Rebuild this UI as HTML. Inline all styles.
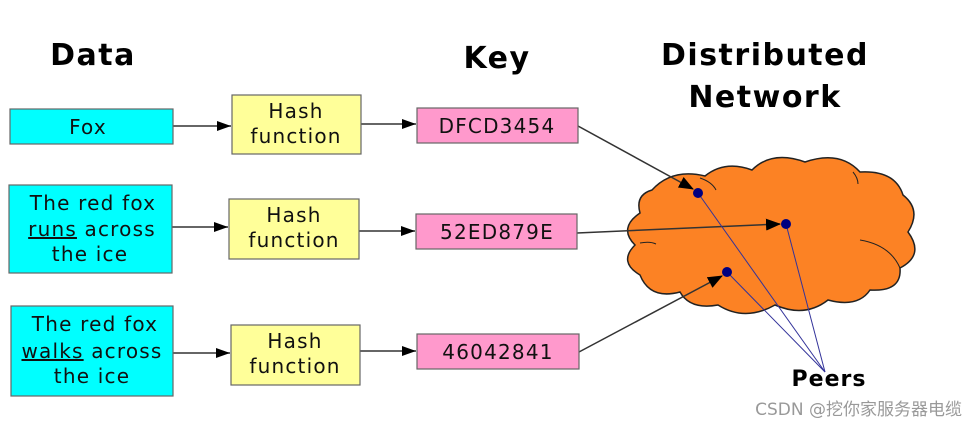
<!DOCTYPE html>
<html><head><meta charset="utf-8"><style>
html,body{margin:0;padding:0;background:#fff;}
svg{display:block;}
text{font-family:"DejaVu Sans","Liberation Sans",sans-serif;}
</style></head><body>
<svg width="978" height="425" viewBox="0 0 978 425" xmlns="http://www.w3.org/2000/svg">
<defs><marker id="a" markerWidth="14" markerHeight="10" refX="14" refY="5" orient="auto" markerUnits="userSpaceOnUse"><path d="M0,0 L14,5 L0,10 z" fill="#000"/></marker>
<marker id="b" markerWidth="15" markerHeight="12" refX="14" refY="6" orient="auto" markerUnits="userSpaceOnUse"><path d="M0,0 L15,6 L0,12 z" fill="#000"/></marker></defs>
<g font-weight="bold" font-size="30" fill="#000" text-anchor="middle" letter-spacing="1.5">
<text x="93" y="65">Data</text>
<text x="497" y="68">Key</text>
<text x="765" y="65">Distributed</text>
<text x="765" y="107">Network</text>
</g>
<path d="M652,190 Q672,168 705,176 Q725,160 752,170 Q772,150 805,162 Q840,150 860,172 Q895,170 903,195 Q922,210 908,232 Q925,255 900,268 Q902,292 870,290 Q858,308 828,300 Q805,318 775,305 Q745,322 718,305 Q690,310 680,292 Q650,300 640,275 Q618,262 635,245 Q618,228 640,213 Q635,195 652,190 Z" fill="#fc8224" stroke="#222" stroke-width="1.5"/>
<g fill="none" stroke="#222" stroke-width="1"><path d="M700,178 Q712,182 716,190"/><path d="M853,172 Q858,178 858,184"/><path d="M860,240 Q890,245 900,268"/><path d="M640,243 Q650,241 656,244"/></g>
<g stroke="#333" stroke-width="1.5" fill="none">
<line x1="173" y1="126" x2="231" y2="126" marker-end="url(#a)"/>
<line x1="172" y1="227" x2="228" y2="227" marker-end="url(#a)"/>
<line x1="173" y1="353" x2="230" y2="353" marker-end="url(#a)"/>
<line x1="361" y1="124" x2="416" y2="124" marker-end="url(#a)"/>
<line x1="359" y1="231" x2="415" y2="231" marker-end="url(#a)"/>
<line x1="360" y1="351" x2="416" y2="351" marker-end="url(#a)"/>
<line x1="578" y1="126" x2="693" y2="189" marker-end="url(#b)"/>
<line x1="577" y1="233" x2="780" y2="224" marker-end="url(#b)"/>
<line x1="579" y1="352" x2="722" y2="276" marker-end="url(#b)"/>
</g>
<g stroke="#33339a" stroke-width="1"><line x1="698" y1="193" x2="825" y2="372"/><line x1="786" y1="224" x2="825" y2="372"/><line x1="727" y1="272" x2="825" y2="372"/></g>
<g fill="#000080"><circle cx="698" cy="193" r="5"/><circle cx="786" cy="224" r="5"/><circle cx="727" cy="272" r="5"/></g>
<text x="829" y="386" font-weight="bold" font-size="22" text-anchor="middle" letter-spacing="1">Peers</text>
<g stroke="#666" stroke-width="1.2">
<rect x="10" y="109" width="163" height="35" fill="#00ffff"/>
<rect x="9" y="185" width="163" height="88" fill="#00ffff"/>
<rect x="11" y="306" width="162" height="90" fill="#00ffff"/>
<rect x="232" y="95" width="129" height="59" fill="#ffff99"/>
<rect x="229" y="199" width="130" height="60" fill="#ffff99"/>
<rect x="231" y="325" width="129" height="60" fill="#ffff99"/>
<rect x="417" y="108" width="161" height="35" fill="#ff99cc"/>
<rect x="416" y="214" width="161" height="35" fill="#ff99cc"/>
<rect x="417" y="334" width="162" height="35" fill="#ff99cc"/>
</g>
<g font-size="20" fill="#111" text-anchor="middle" letter-spacing="1.2">
<text x="88" y="134">Fox</text>
<text x="93" y="210">The red fox</text>
<text x="92" y="236"><tspan text-decoration="underline">runs</tspan> across</text>
<text x="90" y="261">the ice</text>
<text x="95" y="331">The red fox</text>
<text x="92" y="358"><tspan text-decoration="underline">walks</tspan> across</text>
<text x="92" y="383">the ice</text>
<text x="296" y="118">Hash</text><text x="296" y="143">function</text>
<text x="294" y="222">Hash</text><text x="294" y="247">function</text>
<text x="295" y="348">Hash</text><text x="295" y="373">function</text>
<text x="497" y="133">DFCD3454</text>
<text x="497" y="239">52ED879E</text>
<text x="498" y="359">46042841</text>
</g>
<text x="962" y="415" font-size="17" fill="#999" text-anchor="end" font-family="Liberation Sans,'Noto Sans CJK SC',sans-serif">CSDN @挖你家服务器电缆</text>
</svg>
</body></html>
